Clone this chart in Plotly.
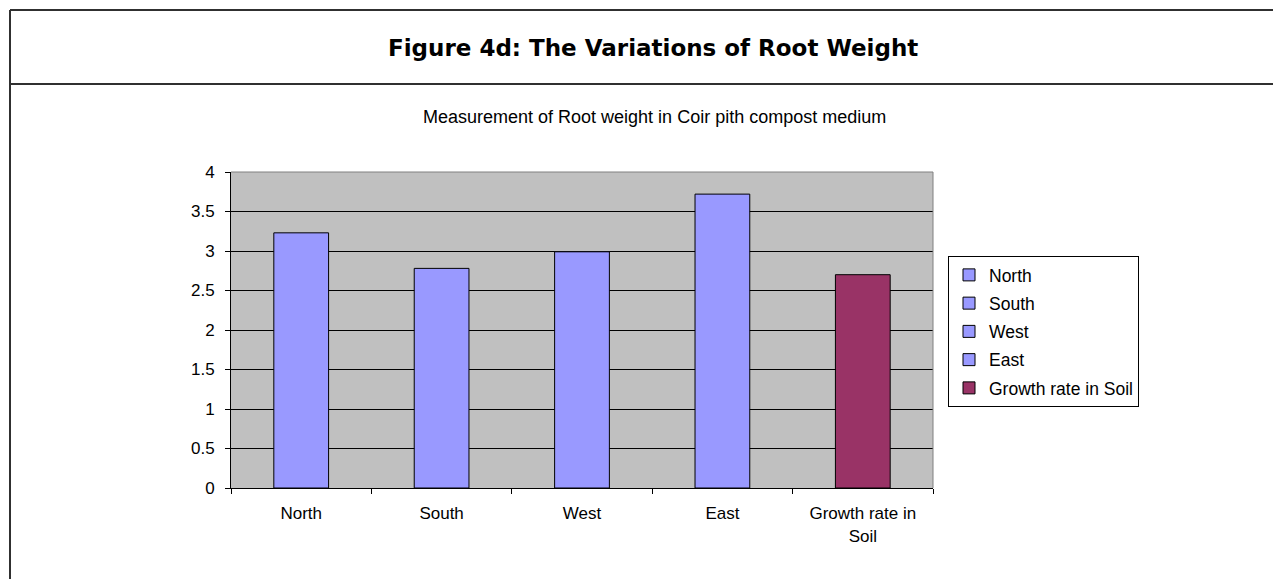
import plotly.graph_objects as go

categories = ["North", "South", "West", "East", "Growth rate in Soil"]
tick_labels = ["North", "South", "West", "East", "Growth rate in<br>Soil"]
values = [3.23, 2.78, 2.99, 3.72, 2.70]
colors = ["#9999FF", "#9999FF", "#9999FF", "#9999FF", "#993366"]

OFF = 8  # default page body margin
PW, PH = 1281, 579
W, H = PW - OFF, PH - OFF
# plot area in page pixels: x 231..933, y 172..488
L = 231 - OFF
T = 172 - OFF
R = W - (933 - OFF)
B = H - (488 - OFF)
pw, ph = W - L - R, H - T - B

def px(x):  # page x -> paper
    return (x - OFF - L) / pw

def py(y):  # page y -> paper
    return (H - B - (y - OFF)) / ph

fig = go.Figure()
for cat, lab, v, c in zip(categories, tick_labels, values, colors):
    fig.add_trace(go.Bar(
        x=[lab], y=[v], name=cat, legendgroup=cat,
        marker=dict(color=c, line=dict(color="black", width=1)),
    ))

fig.update_layout(
    width=W, height=H,
    margin=dict(l=L, r=R, t=T, b=B, pad=0),
    paper_bgcolor="white",
    plot_bgcolor="#C0C0C0",
    barmode="overlay",
    bargap=0.61,
    font=dict(family="Liberation Sans, Arial", size=17, color="black"),
    showlegend=True,
    legend=dict(
        x=px(948), y=py(256), xanchor="left", yanchor="top",
        bordercolor="black", borderwidth=1, bgcolor="white",
        font=dict(family="Liberation Sans, Arial", size=17.5, color="black"),
        tracegroupgap=2.5, itemwidth=30,
    ),
    xaxis=dict(
        categoryorder="array", categoryarray=tick_labels,
        showline=True, linecolor="black", linewidth=1,
        ticks="outside", ticklen=5, tickcolor="black", tickson="boundaries",
        ticklabelstandoff=10,
        showgrid=False, tickfont=dict(size=17), fixedrange=True,
    ),
    yaxis=dict(
        range=[0, 4], dtick=0.5,
        showline=True, linecolor="black", linewidth=1,
        ticks="outside", ticklen=5, tickcolor="black",
        ticklabelstandoff=7,
        showgrid=True, gridcolor="black", gridwidth=1,
        zeroline=False, tickfont=dict(size=17), fixedrange=True,
    ),
)

# plot-area border (gray) on top and right
fig.add_shape(type="line", xref="paper", yref="paper", x0=0, x1=1, y0=1, y1=1,
              line=dict(color="#808080", width=1))
fig.add_shape(type="line", xref="paper", yref="paper", x0=1, x1=1, y0=0, y1=1,
              line=dict(color="#808080", width=1))

# outer frame lines
frame = dict(color="#303030", width=2)
fig.add_shape(type="line", xref="paper", yref="paper", x0=px(10), x1=px(1300), y0=py(10), y1=py(10), line=frame)
fig.add_shape(type="line", xref="paper", yref="paper", x0=px(10), x1=px(1300), y0=py(84), y1=py(84), line=frame)
fig.add_shape(type="line", xref="paper", yref="paper", x0=px(10), x1=px(10), y0=py(10), y1=py(600), line=frame)

fig.add_annotation(text="<b>Figure 4d: The Variations of Root Weight</b>", xref="paper", yref="paper",
                   x=px(653), y=py(48), showarrow=False, xanchor="center", yanchor="middle",
                   font=dict(family="DejaVu Sans", size=23, color="black"))
fig.add_annotation(text="Measurement of Root weight in Coir pith compost medium", xref="paper", yref="paper",
                   x=px(654), y=py(117), showarrow=False, xanchor="center", yanchor="middle",
                   font=dict(family="Liberation Sans, Arial", size=18, color="black"))

fig.write_html("out.html")
